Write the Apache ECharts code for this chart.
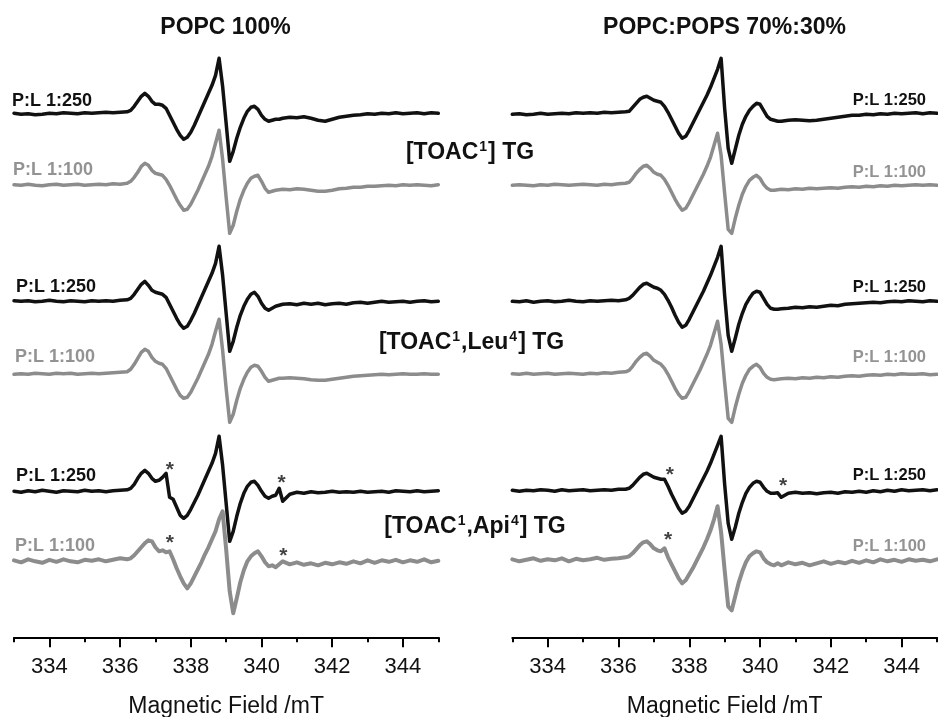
<!DOCTYPE html>
<html>
<head>
<meta charset="utf-8">
<script src="https://cdn.jsdelivr.net/npm/echarts@6/dist/echarts.min.js"></script>
<style>
  html, body { margin: 0; padding: 0; background: #fff; }
  #chart { width: 938px; height: 717px; }
</style>
</head>
<body>
<div id="chart"></div>
<script>
// Magnetic field sampling points (mT), shared by every spectrum
const field = [
  333.0,333.2,333.4,333.6,333.8,334.0,334.2,334.4,334.6,334.8,335.0,335.2,335.4,335.6,335.8,336.0,336.2,
  336.3,336.4,336.5,336.6,336.7,336.8,336.9,337.0,337.1,337.2,337.3,337.4,337.5,337.6,337.7,337.8,337.9,338.0,338.1,338.2,
  338.3,338.4,338.5,338.6,338.7,338.8,338.9,339.0,339.1,339.2,339.3,339.4,339.5,339.6,339.7,339.8,339.9,340.0,340.1,340.2,
  340.3,340.4,340.5,
  340.6,340.8,341.0,341.2,341.4,341.6,341.8,342.0,342.2,342.4,342.6,342.8,343.0,343.2,343.4,343.6,343.8,344.0,344.2,344.4,344.6,344.8,345.0
];

// EPR first-derivative spectra (arbitrary units), POPC 100%
const popcTg250 = [
  0,-1,-0.5,-1.5,-1,0,-0.5,0.5,0,-0.5,0.5,0,0.5,1,0.5,1,1.5,
  3,7,12,17,20,17,12,9,9,8, 5,-2,-9,-16,-22,-26,-24,-19,-12,-4,
  4,12,20,28,38,55,27,-10,-48,-38, -25,-14,-5,2,6,7,4,-2,-6,-8, -7,-6,-6,
  -5,-4,-4.5,-3.5,-5,-7,-8,-6,-4,-3,-2,-1.5,-0.5,-1,0,-0.5,0.5,-0.5,0,0.5,-0.5,0.5,0
];
const popcTg100 = [
  0.5,0,1,0,-0.5,0.5,1,0,0.5,1,0,0.5,1,0.5,1.5,1,2,
  4,8,13,19,22,20,15,12,11,10, 6,0,-7,-14,-20,-25,-24,-19,-12,-5,
  3,11,19,29,42,55,26,-12,-48,-40, -26,-14,-5,2,7,9,10,4,-3,-7, -6,-5,-4.5,
  -4,-4.5,-3.5,-4,-5,-6,-6,-5,-3.5,-3,-2,-2,-1,-1,-0.5,0,-0.5,0.5,0,0.5,0,-0.5,0.5
];
const popcLeu250 = [
  0.5,0,0.5,-0.5,0,1,0,-0.5,0.5,0,-0.5,0.5,0,0.5,0,1,1.5,
  3,7,12,17,20,16,11,9,8,7, 4,-3,-10,-17,-23,-27,-25,-19,-12,-4,
  4,12,20,28,38,55,26,-12,-50,-40, -26,-14,-5,2,7,9,5,-2,-7,-9, -7,-5,-4,
  -3,-2.5,-3.5,-2,-3,-2,-3.5,-2.5,-2,-3,-1.5,-1,-2,-1,0,-1,-0.5,0,-1,0,0.5,-0.5,0
];
const popcLeu100 = [
  0,0.5,0,1,0.5,0,1,0.5,1,0,0.5,1,0.5,1,1.5,2,2.5,
  5,10,16,22,25,23,17,13,11,10, 6,-1,-8,-15,-21,-24,-23,-18,-11,-4,
  4,12,20,30,43,55,24,-14,-48,-40, -26,-14,-5,2,7,9,8,3,-3,-7, -6,-5,-4,
  -4,-3.5,-4,-4.5,-5.5,-6,-6,-5,-4,-3,-2,-1.5,-1,-0.5,0,-0.5,0,0.5,0,0,0.5,0,0
];
const popcApi250 = [
  0,-1,0.5,-0.5,1,0,-1,0.5,0,-0.5,1,0,0.5,-0.5,0.5,1,1.5,
  3,7,13,18,21,18,13,10,11,14, 18,-6,-8,-16,-24,-27,-24,-18,-11,-4,
  4,12,20,28,38,55,26,-12,-50,-40, -25,-12,-2,5,9,10,6,0,-5,-7, -5,-4,3,
  -10,-3,-1,-2,-0.5,-1.5,-1,0,-1,-0.5,-1,0,-1,-0.5,0,-1,0.5,0,-0.5,0.5,-0.5,0,0.5
];
const popcApi100 = [
  1,-1,2,0,-1.5,1.5,-0.5,2,0,-1,1.5,0.5,2,0,1.5,3,2,
  3,6,10,14,18,21,20,14,10,11, 9,10,2,-7,-15,-22,-27,-22,-15,-8,
  -1,7,14,22,30,42,50,12,-30,-52, -37,-21,-9,0,5,8,10,5,-1,-5, -4,-6,-3,
  0,-3,-1,-3.5,-2,-4,-1.5,-3,-1,-2.5,0,-2,1,-1.5,1,-0.5,1.5,-1,1,-0.5,2,-1,0.5
];

// EPR first-derivative spectra (arbitrary units), POPC:POPS 70%:30%
const popsTg250 = [
  -1,-0.5,-1.5,-1,0,-1,-0.5,0,-0.5,0.5,0,0.5,0,1,0.5,1,1.5,
  2,6,10,14,16,17,15,13,12,11, 7,1,-6,-13,-20,-25,-23,-17,-10,-3,
  4,11,18,26,35,44,55,5,-35,-50, -36,-22,-11,-3,3,7,10,9,3,-3, -6,-7,-8,
  -8,-7,-6.5,-7,-7.5,-7,-6,-5,-4,-3,-2,-2,-1,-1.5,-0.5,-1,0,-0.5,0,0.5,-0.5,0.5,0
];
const popsTg100 = [
  0,0.5,0,-0.5,0.5,0,1,0.5,0,0.5,1,0.5,0,1,0.5,1.5,2,
  3,7,12,16,19,20,17,13,11,10, 6,0,-7,-14,-20,-25,-23,-17,-10,-3,
  4,11,19,28,40,52,30,-8,-44,-48, -33,-20,-9,-1,5,8,10,7,1,-3, -5,-5,-4.5,
  -4,-4.5,-3.5,-4,-3,-3.5,-3,-2.5,-3,-2,-1.5,-2,-1,-1.5,-0.5,-1,0,-0.5,0,0.5,0,0.5,0
];
const popsLeu250 = [
  0,-0.5,0.5,-1,0,0.5,-0.5,0,1,0,-0.5,0.5,0,0.5,1,0.5,1.5,
  3,6,10,14,17,18,16,14,13,11, 7,1,-6,-14,-21,-26,-24,-18,-11,-4,
  3,10,18,26,35,44,55,6,-34,-50, -37,-23,-12,-3,3,8,10,9,3,-3, -7,-8,-8,
  -7.5,-7,-6,-6.5,-5.5,-6,-5,-4,-4.5,-3,-2.5,-2,-1.5,-1,-1.5,-0.5,0,-0.5,0.5,0,-0.5,0.5,0
];
const popsLeu100 = [
  0.5,0,1,0,0.5,1,0,0.5,1,0.5,0,1,0.5,1.5,1,2,2.5,
  4,8,13,17,20,21,18,14,12,10, 6,0,-7,-14,-20,-24,-23,-17,-10,-3,
  4,12,20,29,41,53,30,-8,-44,-48, -33,-20,-9,-1,5,8,10,7,1,-3, -5,-5.5,-5,
  -4.5,-4,-4.5,-3.5,-4,-3,-3.5,-2.5,-3,-2,-1.5,-2,-1,-0.5,-1,0,-0.5,0.5,0,0,0.5,-0.5,0
];
const popsApi250 = [
  0,-1,0,-0.5,0.5,0,-1,0.5,-0.5,0,0.5,-0.5,0,0.5,0,1,1,
  2,5,9,13,16,17,15,13,12,11, 11,4,-4,-11,-18,-23,-21,-16,-9,-2,
  5,12,19,27,36,45,54,6,-33,-49, -37,-23,-12,-3,3,7,9,8,3,-1, -3,-3,-2.5,
  -7,-3,-2,-3,-2.5,-3.5,-2.5,-2,-3,-1.5,-2,-1,-2,-0.5,-1.5,0,-1,0.5,-0.5,0,0.5,-0.5,0.5
];
const popsApi100 = [
  1,-1,0.5,2,-0.5,1,0,2,-1,1.5,0,1,2.5,0.5,1.5,2,3,
  4,7,11,15,18,19,16,12,10,9, 12,3,-4,-11,-18,-23,-20,-14,-8,-1,
  6,13,21,30,41,54,28,-10,-46,-50, -36,-22,-11,-2,4,7,9,8,2,-2, -4,-5,-3,
  -5,-2,-4,-2.5,-5,-3,-1,-3.5,-1.5,-3,-0.5,-2.5,0,-2,1,-1,0.5,-1.5,1,-0.5,0.5,-1,1
];

// Vertical stacking offsets of the six spectra in each panel (same units)
const stackLeft  = [524, 452, 336, 263, 146, 76];
const stackRight = [524, 452, 336, 263, 147, 77];

// Positions of the "*" impurity markers [field, stacked intensity]
const starsLeft  = [[337.41, 172], [340.57, 159], [337.41, 99], [340.62, 86]];
const starsRight = [[337.45, 167], [340.65, 156], [337.40, 102]];

// Axis tick values
const majorTicks = [334, 336, 338, 340, 342, 344];
const minorTicks = [333, 335, 337, 339, 341, 343, 345];

const FONT = '"Liberation Sans", Arial, Helvetica, sans-serif';
const BLACK = '#111111';
const GRAY = '#8c8c8c';
const GRAY_TEXT = '#939393';

const leftSpectra  = [popcTg250, popcTg100, popcLeu250, popcLeu100, popcApi250, popcApi100];
const rightSpectra = [popsTg250, popsTg100, popsLeu250, popsLeu100, popsApi250, popsApi100];

function xAxesFor(gridIndex) {
  return [
    {
      type: 'value', gridIndex: gridIndex, min: 333, max: 345, position: 'bottom',
      axisLine: { show: true, onZero: false, lineStyle: { color: '#000', width: 2 } },
      axisTick: { show: true, inside: false, customValues: majorTicks, length: 10, lineStyle: { color: '#000', width: 2 } },
      axisLabel: { show: true, inside: false, customValues: majorTicks, margin: 19, fontSize: 22, color: '#111', fontFamily: FONT },
      splitLine: { show: false },
      name: 'Magnetic Field /mT', nameLocation: 'middle', nameGap: 58,
      nameTextStyle: { fontSize: 23, color: '#111', fontFamily: FONT }
    },
    {
      type: 'value', gridIndex: gridIndex, min: 333, max: 345, position: 'bottom',
      axisLine: { show: false, onZero: false },
      axisTick: { show: true, inside: false, customValues: minorTicks, length: 5, lineStyle: { color: '#000', width: 2 } },
      axisLabel: { show: false },
      splitLine: { show: false }
    }
  ];
}

function spectrumSeries(values, offset, color, width, xAxisIndex, yAxisIndex) {
  return {
    type: 'line',
    xAxisIndex: xAxisIndex, yAxisIndex: yAxisIndex,
    data: field.map((b, i) => [b, offset + values[i]]),
    symbol: 'none', showSymbol: false, clip: false, silent: true,
    lineStyle: { color: color, width: width, join: 'round', cap: 'round' }
  };
}

function starSeries(points, xAxisIndex, yAxisIndex) {
  return {
    type: 'scatter', xAxisIndex: xAxisIndex, yAxisIndex: yAxisIndex,
    data: points, symbolSize: 0, silent: true, clip: false,
    label: {
      show: true, position: 'inside', formatter: '*', offset: [0, 5],
      fontSize: 21, fontWeight: 'bold', color: '#111', fontFamily: FONT
    }
  };
}

// Noisier low-ratio Api spectra are drawn a touch heavier
const lineWidths = [3.5, 3.5, 3.5, 3.5, 3.5, 4];

const series = [];
leftSpectra.forEach((v, i) => series.push(spectrumSeries(v, stackLeft[i], i % 2 ? GRAY : BLACK, lineWidths[i], 0, 0)));
rightSpectra.forEach((v, i) => series.push(spectrumSeries(v, stackRight[i], i % 2 ? GRAY : BLACK, lineWidths[i], 2, 1)));
series.push(starSeries(starsLeft, 0, 0));
series.push(starSeries(starsRight, 2, 1));

function label(text, x, y, size, color, align) {
  return {
    type: 'text', x: x, y: y, silent: true,
    style: {
      text: text, fill: color,
      font: 'bold ' + size + 'px ' + FONT,
      align: align, verticalAlign: 'middle',
      textAlign: align, textVerticalAlign: 'middle'
    }
  };
}

function peptideLabel(richText, x, y) {
  return {
    type: 'text', x: x, y: y, silent: true,
    style: {
      text: richText,
      align: 'center', verticalAlign: 'middle',
      textAlign: 'center', textVerticalAlign: 'middle',
      rich: {
        a: { fontSize: 23, fontWeight: 'bold', fontFamily: FONT, fill: '#111', color: '#111', lineHeight: 26 },
        s: { fontSize: 14, fontWeight: 'bold', fontFamily: FONT, fill: '#111', color: '#111', lineHeight: 26, verticalAlign: 'top', padding: [0, 1, 0, 1] }
      }
    }
  };
}

const graphics = [
  label('POPC 100%', 225.5, 28, 23, '#111', 'center'),
  label('POPC:POPS 70%:30%', 724.5, 28, 23, '#111', 'center'),

  label('P:L 1:250', 12, 101, 18, '#111', 'left'),
  label('P:L 1:100', 13, 170, 18, GRAY_TEXT, 'left'),
  label('P:L 1:250', 16, 287, 18, '#111', 'left'),
  label('P:L 1:100', 15, 357, 18, GRAY_TEXT, 'left'),
  label('P:L 1:250', 16, 476, 18, '#111', 'left'),
  label('P:L 1:100', 15, 546, 18, GRAY_TEXT, 'left'),

  label('P:L 1:250', 926, 100, 16.5, '#111', 'right'),
  label('P:L 1:100', 926, 172, 16.5, GRAY_TEXT, 'right'),
  label('P:L 1:250', 926, 287, 16.5, '#111', 'right'),
  label('P:L 1:100', 926, 357, 16.5, GRAY_TEXT, 'right'),
  label('P:L 1:250', 926, 475, 16.5, '#111', 'right'),
  label('P:L 1:100', 926, 546, 16.5, GRAY_TEXT, 'right'),

  peptideLabel('{a|[TOAC}{s|1}{a|] TG}', 470, 153),
  peptideLabel('{a|[TOAC}{s|1}{a|,Leu}{s|4}{a|] TG}', 471.5, 343),
  peptideLabel('{a|[TOAC}{s|1}{a|,Api}{s|4}{a|] TG}', 475, 527)
];

const chart = echarts.init(document.getElementById('chart'), null, { renderer: 'canvas' });
chart.setOption({
  animation: false,
  backgroundColor: '#ffffff',
  grid: [
    { left: 14, top: 37.3, width: 424.3, height: 600, containLabel: false, outerBoundsMode: 'none' },
    { left: 512.3, top: 37.3, width: 424.7, height: 600, containLabel: false, outerBoundsMode: 'none' }
  ],
  xAxis: xAxesFor(0).concat(xAxesFor(1)),
  yAxis: [
    { type: 'value', gridIndex: 0, min: 0, max: 600, show: false },
    { type: 'value', gridIndex: 1, min: 0, max: 600, show: false }
  ],
  series: series,
  graphic: graphics
});
</script>
</body>
</html>
